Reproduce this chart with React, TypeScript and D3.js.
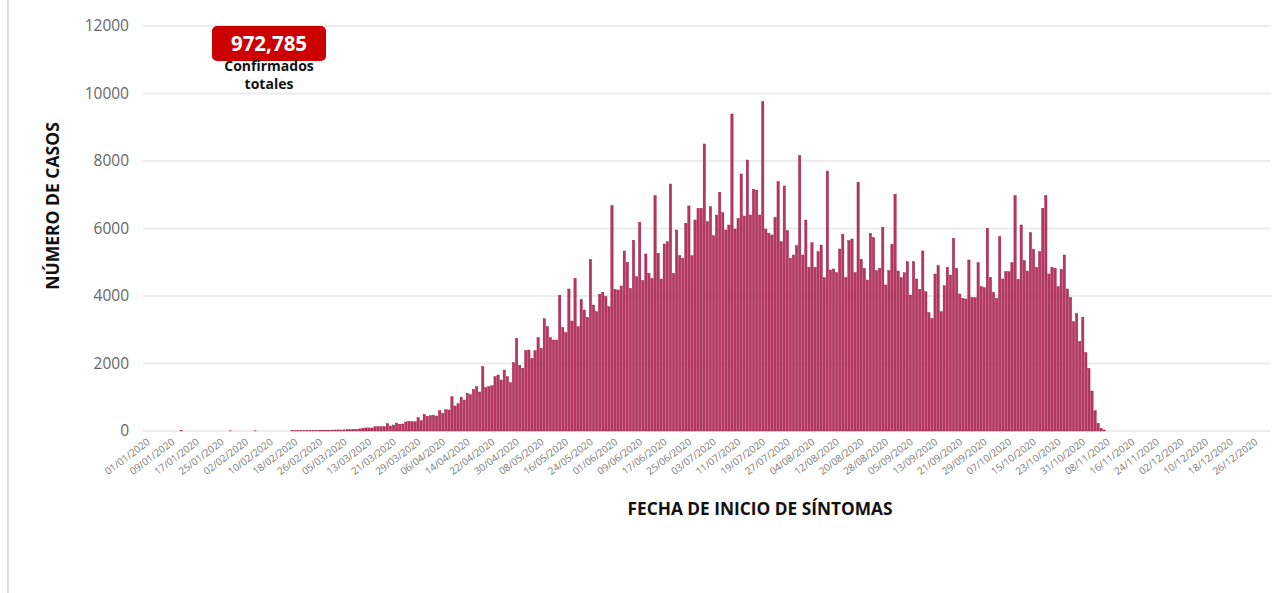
import * as d3 from 'd3';

const W = 1274;
const H = 593;

// daily confirmed cases by symptom onset, starting 01/01/2020
const START = new Date(2020, 0, 1);
const CASES: number[] = [
  0, 0, 0, 0, 0, 0, 0, 0, 0, 0, 0, 6, 0, 0, 0, 0, 0, 0, 0, 0,
  0, 0, 0, 0, 0, 0, 0, 4, 0, 0, 0, 0, 0, 0, 0, 5, 0, 0, 0, 0,
  0, 0, 0, 0, 0, 0, 0, 6, 6, 8, 10, 8, 12, 10, 15, 12, 18, 20, 22, 25,
  28, 30, 32, 30, 35, 38, 40, 50, 50, 60, 80, 90, 90, 90, 128, 128, 128, 128, 217, 148,
  178, 237, 198, 207, 267, 286, 277, 277, 395, 306, 494, 435, 454, 464, 444, 602, 523, 632, 622, 1017,
  741, 810, 998, 919, 1116, 1077, 1235, 1314, 1156, 1906, 1284, 1314, 1343, 1610, 1659, 1511, 1807, 1610, 1432, 2025,
  2746, 1946, 1857, 2380, 2400, 2153, 2380, 2766, 2450, 3328, 3091, 2766, 2696, 2696, 4020, 3062, 2914, 4208, 3259, 4524,
  3091, 3901, 3585, 3368, 5087, 3733, 3536, 4050, 4109, 3980, 3684, 6677, 4198, 4178, 4297, 5334, 4998, 4227, 5650, 4573,
  6183, 4455, 5245, 4672, 4524, 6973, 5264, 4504, 5541, 5610, 7319, 4672, 5956, 5195, 5116, 6153, 6667, 5195, 6252, 6598,
  6598, 8504, 6203, 6647, 5788, 6400, 7072, 6469, 5956, 6104, 9393, 5985, 6301, 7615, 6371, 8030, 6400, 7161, 7141, 6400,
  9758, 5985, 5857, 5808, 6331, 7388, 5610, 7260, 5936, 5116, 5215, 5492, 8158, 5215, 6252, 4850, 5580, 4850, 5314, 5511,
  4543, 7704, 4771, 4800, 4692, 5393, 5827, 4543, 5640, 5689, 4692, 7368, 5087, 4820, 4474, 5857, 5729, 4751, 4820, 6035,
  4326, 4751, 5531, 7013, 4741, 4543, 4692, 5017, 4030, 5017, 4504, 4198, 5334, 4129, 3506, 3338, 4652, 4899, 3536, 4306,
  4850, 4622, 5709, 4820, 4059, 3931, 3911, 5067, 3961, 3951, 4988, 4277, 4247, 6005, 4553, 4109, 3931, 5758, 4504, 4721,
  4721, 4988, 6973, 4494, 6104, 5047, 4741, 5877, 5383, 4850, 5314, 6598, 6973, 4652, 4850, 4820, 4277, 4790, 5215, 4208,
  3961, 3240, 3487, 2647, 3368, 2321, 1857, 1185, 602, 227, 79, 30,
];

const Y_TICKS = [0, 2000, 4000, 6000, 8000, 10000, 12000];

const X_TICKS = [
  '01/01/2020', '09/01/2020', '17/01/2020', '25/01/2020', '02/02/2020', '10/02/2020',
  '18/02/2020', '26/02/2020', '05/03/2020', '13/03/2020', '21/03/2020', '29/03/2020',
  '06/04/2020', '14/04/2020', '22/04/2020', '30/04/2020', '08/05/2020', '16/05/2020',
  '24/05/2020', '01/06/2020', '09/06/2020', '17/06/2020', '25/06/2020', '03/07/2020',
  '11/07/2020', '19/07/2020', '27/07/2020', '04/08/2020', '12/08/2020', '20/08/2020',
  '28/08/2020', '05/09/2020', '13/09/2020', '21/09/2020', '29/09/2020', '07/10/2020',
  '15/10/2020', '23/10/2020', '31/10/2020', '08/11/2020', '16/11/2020', '24/11/2020',
  '02/12/2020', '10/12/2020', '18/12/2020', '26/12/2020',
];

const TOTAL_LABEL = '972,785';

const fmt = d3.timeFormat('%d/%m/%Y');
const DAYS = d3.timeDay.range(START, new Date(2021, 0, 1)).map(fmt);

const FONT = '"Open Sans", sans-serif';
const BAR_FILL = '#b53862';
const BAR_STROKE = '#9a0d3e';

export default function App() {
  const x = d3.scaleBand<string>().domain(DAYS).range([146.2, 1271.6]).paddingInner(0.25);
  const y = d3.scaleLinear().domain([0, 12000]).range([431, 26]);

  return (
    <div style={{ position: 'absolute', left: 0, top: 0, background: '#fff' }}>
      <svg width={W} height={H} style={{ display: 'block' }}>
        <line x1={8} x2={8} y1={0} y2={H} stroke="#c4c4c4" strokeWidth={1.2} />

        {Y_TICKS.map((t) => (
          <g key={t}>
            <line x1={143} x2={1271} y1={y(t)} y2={y(t)} stroke="#ededed" strokeWidth={2} />
            <text
              x={129}
              y={y(t)}
              dy="0.35em"
              textAnchor="end"
              fontFamily={FONT}
              fontSize={15.5}
              fill="#666"
            >
              {t}
            </text>
          </g>
        ))}

        <g>
          {CASES.map((v, i) => (
            v > 0 ? (
              <rect
                key={i}
                x={x(DAYS[i])!}
                y={y(v)}
                width={x.bandwidth()}
                height={y(0) - y(v)}
                fill={BAR_FILL}
                stroke={BAR_STROKE}
                strokeWidth={0.4}
              />
            ) : null
          ))}
        </g>

        {X_TICKS.map((lbl) => {
          const cx = x(lbl)! + x.bandwidth() / 2;
          return (
            <text
              key={lbl}
              transform={`translate(${cx},439) rotate(-37)`}
              textAnchor="end"
              dy="0.55em"
              fontFamily={FONT}
              fontSize={10}
              fill="#7a7a7a"
            >
              {lbl}
            </text>
          );
        })}

        <text
          transform="translate(59,206) rotate(-90)"
          textAnchor="middle"
          fontFamily={FONT}
          fontWeight={700}
          fontSize={17.5}
          fill="#111"
        >
          NÚMERO DE CASOS
        </text>
        <text
          x={760}
          y={515}
          textAnchor="middle"
          fontFamily={FONT}
          fontWeight={700}
          fontSize={17.3}
          fill="#111"
        >
          FECHA DE INICIO DE SÍNTOMAS
        </text>

        <rect x={212} y={26} width={114} height={35} rx={5} fill="#cc0000" />
        <text x={269} y={51} textAnchor="middle" fontFamily={FONT} fontWeight={700} fontSize={20.5} fill="#fff">
          {TOTAL_LABEL}
        </text>
        <text x={269} y={71} textAnchor="middle" fontFamily={FONT} fontWeight={700} fontSize={14} fill="#111">
          Confirmados
        </text>
        <text x={269} y={89} textAnchor="middle" fontFamily={FONT} fontWeight={700} fontSize={14} fill="#111">
          totales
        </text>
      </svg>
    </div>
  );
}
